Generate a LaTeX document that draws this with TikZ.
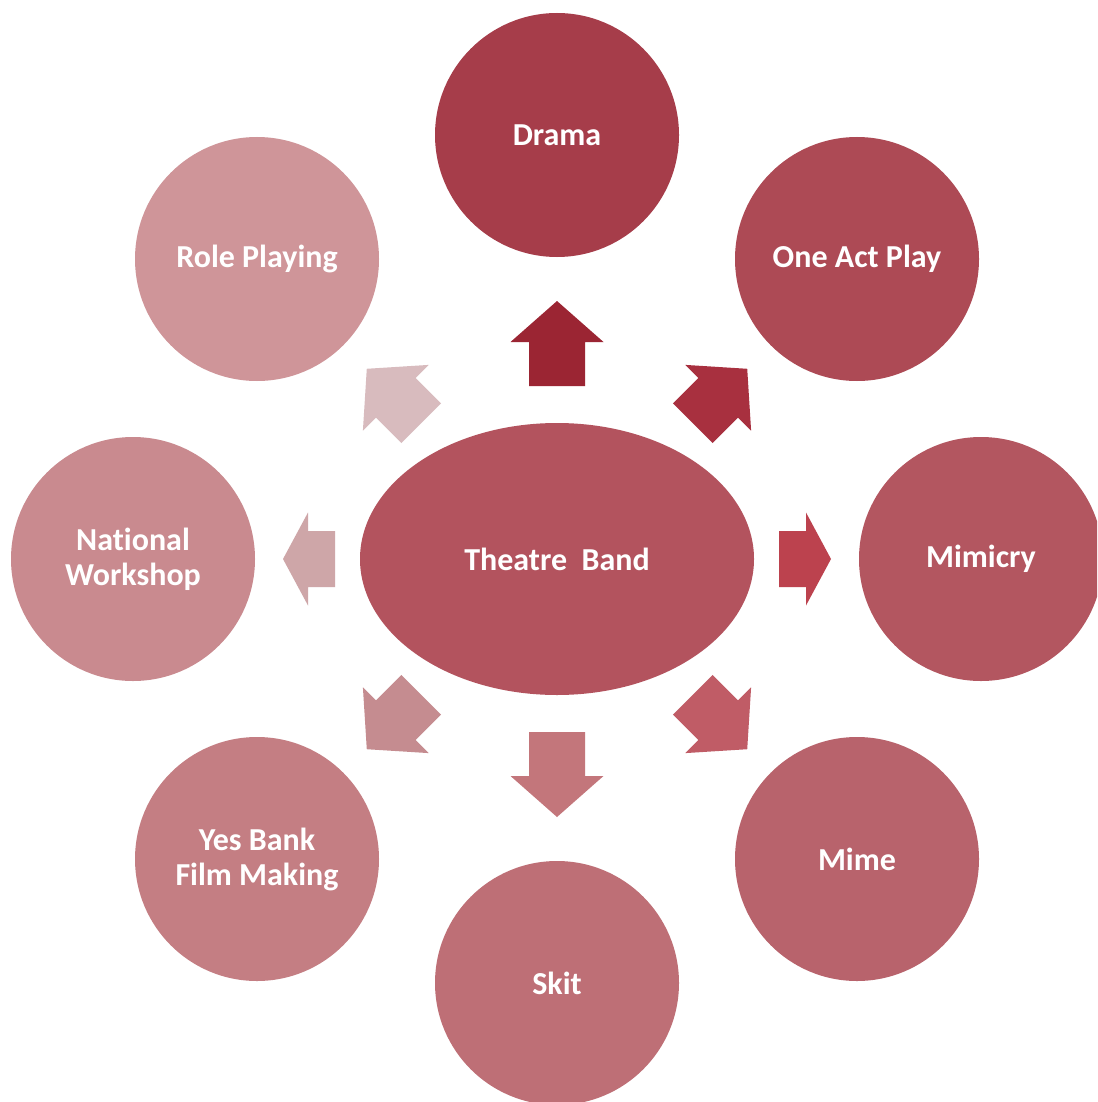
\documentclass[tikz,border=0pt]{standalone}
\usepackage{fontspec}
\setmainfont[Ligatures=NoCommon]{Carlito}
\usetikzlibrary{shapes.geometric}
\definecolor{cDrama}{HTML}{A63D4A}
\definecolor{cOne}{HTML}{AD4A55}
\definecolor{cMim}{HTML}{B35660}
\definecolor{cMime}{HTML}{B8636C}
\definecolor{cSkit}{HTML}{BE6F76}
\definecolor{cYes}{HTML}{C47E83}
\definecolor{cNat}{HTML}{C98A8F}
\definecolor{cRole}{HTML}{CF9599}
\definecolor{cCenter}{HTML}{B3535E}
\definecolor{aDrama}{HTML}{9B2533}
\definecolor{aOne}{HTML}{A8303F}
\definecolor{aMim}{HTML}{BC424E}
\definecolor{aMime}{HTML}{C05C66}
\definecolor{aSkit}{HTML}{C3767B}
\definecolor{aYes}{HTML}{C58C90}
\definecolor{aNat}{HTML}{CEA6A8}
\definecolor{aRole}{HTML}{D8BBBE}
\newcommand{\radarrow}[5]{%
  \begin{scope}[shift={(557,559)},rotate=#1]
    \fill[#5] (#2,-28) -- (#3,-28) -- (#3,-46.5) -- (#4,0) -- (#3,46.5) -- (#3,28) -- (#2,28) -- cycle;
  \end{scope}}
\begin{document}
\begin{tikzpicture}[x=1pt,y=-1pt,
  bubble/.style={circle,minimum size=244pt,inner sep=0pt,text=white,
    font=\fontsize{32}{35}\selectfont\bfseries,align=center}]
\clip (0,0) rectangle (1097,1102);
\fill[white] (0,0) rectangle (1097,1102);
\node[ellipse,fill=cCenter,minimum width=394pt,minimum height=272pt,inner sep=0pt,text=white,
  font=\fontsize{32}{35}\selectfont\bfseries] (center) at (557,559) {Theatre\ \ Band};
\node[bubble,fill=cDrama] (drama) at (557,135) {Drama};
\node[bubble,fill=cOne] (one) at (857,259) {One Act Play};
\node[bubble,fill=cMim] (mim) at (981,559) {Mimicry};
\node[bubble,fill=cMime] (mime) at (857,859) {Mime};
\node[bubble,fill=cSkit] (skit) at (557,983) {Skit};
\node[bubble,fill=cYes] (yes) at (257,859) {Yes Bank\\Film Making};
\node[bubble,fill=cNat] (nat) at (133,559) {National\\Workshop};
\node[bubble,fill=cRole] (role) at (257,259) {Role Playing};
\radarrow{90}{173}{217}{258}{aDrama}
\radarrow{45}{192}{228}{269}{aOne}
\radarrow{0}{222}{249}{274}{aMim}
\radarrow{-45}{192}{228}{269}{aMime}
\radarrow{-90}{173}{217}{258}{aSkit}
\radarrow{-135}{192}{228}{269}{aYes}
\radarrow{180}{222}{249}{274}{aNat}
\radarrow{135}{192}{228}{269}{aRole}
\end{tikzpicture}
\end{document}
